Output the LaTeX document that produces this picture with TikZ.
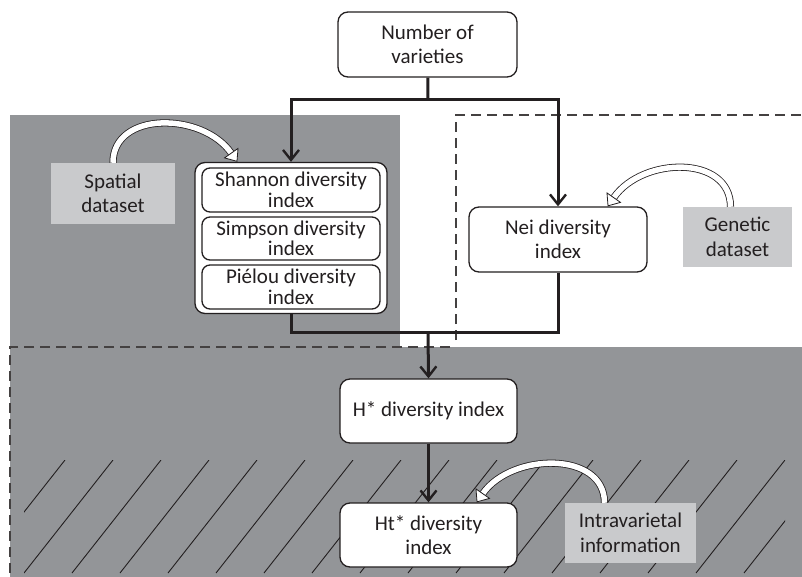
\documentclass[tikz,border=0pt]{standalone}
\usepackage{fontspec}
\setmainfont{Carlito}
\usetikzlibrary{calc, positioning}
\usetikzlibrary{arrows.meta}

\definecolor{regiongray}{HTML}{939598}
\definecolor{datagray}{HTML}{C9CACC}
\definecolor{inkblack}{HTML}{231F20}

\tikzset{
  box/.style={draw=inkblack, line width=1.3pt, rounded corners=10pt, fill=white,
    align=center, text=inkblack, inner sep=2pt},
  subbox/.style={box, rounded corners=8pt, minimum width=178pt, inner sep=0pt,
    font=\fontsize{21}{20.5}\selectfont},
  databox/.style={fill=datagray, align=center, text=inkblack, inner sep=2pt},
  flow/.style={draw=inkblack, line width=3pt},
  flowarrow/.style={flow, -{Straight Barb[length=10pt, width=16pt, line width=2.4pt]}},
  hollow/.style={draw=inkblack, line width=0.8pt, double=white, double distance=5.5pt,
    -{Triangle[open, fill=white, length=11pt, width=18pt, line width=0.8pt]}},
  border/.style={draw=inkblack!85, line width=1.1pt, dash pattern=on 10pt off 6pt},
  hatch/.style={draw=inkblack, line width=0.9pt},
}

\begin{document}
\begin{tikzpicture}[x=1pt, y=-1pt, font=\fontsize{21}{24.5}\selectfont]
\useasboundingbox (0,0) rectangle (802,577);

% shaded regions
\fill[regiongray] (10,115) rectangle (400,347);
\fill[regiongray] (10,347) rectangle (802,577);

\begin{scope}
  \clip (24,460) rectangle (785,573);
  \foreach \x in {65,113,...,881}
    \draw[hatch] (\x,460) -- ++(-89,113);
\end{scope}

\draw[border] (450,347) -- (10,347) -- (10,577);
\draw[border] (456,340) -- (456,115) -- (802,115);

% nodes
\node[box, minimum width=179pt, minimum height=65pt] (varieties) at (427.5,44.5) {Number of\\varieties};

\node[box, minimum width=192pt, minimum height=151pt] (group) at (291,238) {};
\node[subbox, minimum height=44pt] (shannon) at (291,190) {Shannon diversity\\index};
\node[subbox, minimum height=43pt] (simpson) at (291,238.5) {Simpson diversity\\index};
\node[subbox, minimum height=44pt] (pielou) at (291,287) {Piélou diversity\\index};

\node[box, minimum width=178pt, minimum height=65pt] (nei) at (558,239.5) {Nei diversity\\index};
\node[box, minimum width=177pt, minimum height=64pt] (hstar) at (428.5,411) {H* diversity index};
\node[box, minimum width=177pt, minimum height=64pt] (htstar) at (428.5,535) {Ht* diversity\\index};

\node[databox, minimum width=124pt, minimum height=61pt] (spatial) at (113,193.5) {Spatial\\dataset};
\node[databox, minimum width=109pt, minimum height=60pt] (genetic) at (737.5,237) {Genetic\\dataset};
\node[databox, minimum width=131pt, minimum height=60pt] (intra) at (630.5,533) {Intravarietal\\information};

% flow
\coordinate (split) at (428,100);
\coordinate (merge) at (428,332);
\draw[flow] (varieties) -- (split);
\draw[flowarrow] (split) -| (group.north);
\draw[flowarrow] (split) -| (nei.north);
\draw[flow] (group.south) |- (merge);
\draw[flow] (nei.south) |- (merge);
\draw[flowarrow] (merge) -- (hstar.north);
\draw[flowarrow] (hstar) -- (htstar);

% data inputs
\draw[hollow] (spatial.north) .. controls +(0,-52) and +(-35,-50) .. ([xshift=43pt]group.north west);
\draw[hollow] ([xshift=-7pt]genetic.north) .. controls +(0,-52) and +(35,-50) .. ([xshift=-40pt]nei.north east);
\draw[hollow] ([xshift=-26pt]intra.north) .. controls +(0,-52) and +(35,-50) .. ([xshift=-41pt]htstar.north east);
\end{tikzpicture}
\end{document}
